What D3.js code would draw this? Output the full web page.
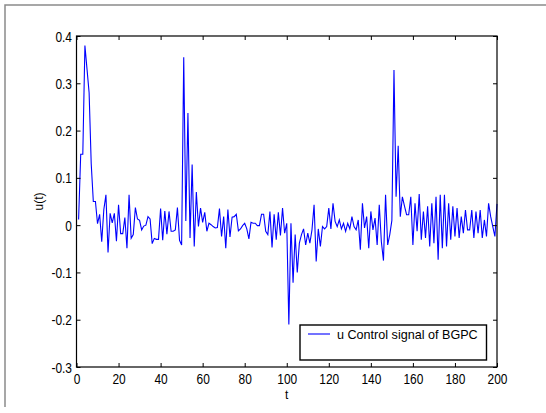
<!DOCTYPE html>
<html>
<head>
<meta charset="utf-8">
<script src="https://cdn.jsdelivr.net/npm/d3@7"></script>
<style>
  body { margin: 0; background: #fff; }
  svg { display: block; font-family: "Liberation Sans", Arial, sans-serif; }
</style>
</head>
<body>
<svg width="546" height="413"></svg>
<script>
// u(t), t = 1..200
var u = [
  0.012, 0.15, 0.15, 0.38, 0.33, 0.28, 0.13, 0.05, 0.05, 0.003,
  0.023, -0.035, 0.033, 0.064, -0.058, 0.025, 0.005, 0.025, -0.034, 0.043,
  -0.018, -0.018, 0.016, -0.049, 0.064, -0.028, -0.02, 0.037, 0.013, 0.01,
  -0.01, -0.002, 0, 0.018, 0.013, -0.039, -0.028, -0.03, -0.03, 0.035,
  -0.032, 0.03, -0.019, 0.029, -0.013, -0.013, -0.01, 0.037, -0.032, -0.042,
  0.355, 0.009, 0.237, -0.027, 0.128, -0.045, 0.07, -0.003, 0.036, 0.006,
  0.027, -0.013, 0.004, 0.001, -0.003, -0.006, -0.005, 0.035, -0.024, 0.018,
  -0.049, 0.033, -0.025, 0.017, 0.018, 0.023, -0.012, -0.008, -0.001, 0.004,
  -0.008, -0.029, 0.006, 0.004, 0.004, -0.001, -0.001, 0.023, 0.023, -0.013,
  -0.02, 0.029, -0.047, 0.023, -0.031, 0.027, -0.022, 0.036, -0.017, 0.004,
  -0.21, 0.004, -0.122, -0.02, -0.1, -0.038, -0.02, -0.008, -0.042, -0.017,
  -0.038, -0.01, 0.043, -0.077, -0.008, -0.045, -0.003, -0.008, -0.003, 0.036,
  -0.008, 0.046, 0.008, -0.003, 0.011, -0.008, 0.004, -0.013, 0.004, -0.008,
  0.018, -0.003, -0.01, 0.011, -0.052, 0.046, -0.006, 0.018, -0.049, 0.029,
  -0.01, 0.015, -0.042, 0.043, -0.035, -0.075, 0.064, -0.042, -0.02, 0.01,
  0.328, 0.06, 0.168, 0.018, 0.06, 0.04, 0.022, 0.022, 0.06, -0.042,
  0.046, -0.013, 0.066, -0.031, 0.029, -0.027, 0.04, -0.045, 0.046, -0.038,
  0.06, -0.073, 0.064, -0.049, 0.064, -0.045, 0.046, -0.031, 0.04, -0.024,
  0.036, -0.027, 0.018, -0.017, 0.032, -0.01, -0.01, 0.032, -0.027, 0.029,
  -0.017, 0.032, -0.027, 0.011, -0.024, 0.046, 0.018, -0.003, -0.024, 0.045
];
var t = d3.range(1, u.length + 1);

var xTicks = [0, 20, 40, 60, 80, 100, 120, 140, 160, 180, 200];
var yTicks = [-0.3, -0.2, -0.1, 0, 0.1, 0.2, 0.3, 0.4];
var yTickLabels = ["-0.3", "-0.2", "-0.1", "0", "0.1", "0.2", "0.3", "0.4"];
var legendText = "u Control signal of BGPC";

var svg = d3.select("svg");

// grey frame round the figure (only top and left edges are visible)
svg.append("path")
  .attr("d", "M5,407V5H546")
  .attr("fill", "none")
  .attr("stroke", "#8a8a8a")
  .attr("stroke-width", 1.5);

var padL = 76.5, padT = 36, padR = 497, padB = 367;
var w = padR - padL, h = padB - padT;

var x = d3.scaleLinear().domain([0, 200]).range([0, w]);
var y = d3.scaleLinear().domain([-0.3, 0.4]).range([h, 0]);

var g = svg.append("g").attr("transform", "translate(" + padL + "," + padT + ")");

// data line
var line = d3.line()
  .x(function (d, i) { return x(t[i]); })
  .y(function (d) { return y(d); });

g.append("path")
  .datum(u)
  .attr("d", line)
  .attr("fill", "none")
  .attr("stroke", "#0000ff")
  .attr("stroke-width", 1.1)
  .attr("stroke-linejoin", "miter");

// axes, MATLAB style: ticks inward on all sides
var xb = g.append("g").attr("transform", "translate(0," + h + ")")
  .call(d3.axisBottom(x).tickValues(xTicks).tickSize(-4).tickFormat(d3.format("d")));
var xt = g.append("g")
  .call(d3.axisTop(x).tickValues(xTicks).tickSize(-4).tickFormat(""));
var yl = g.append("g")
  .call(d3.axisLeft(y).tickValues(yTicks).tickSize(-4)
    .tickFormat(function (d, i) { return yTickLabels[i]; }));
var yr = g.append("g").attr("transform", "translate(" + w + ",0)")
  .call(d3.axisRight(y).tickValues(yTicks).tickSize(-4).tickFormat(""));

[xb, xt, yl, yr].forEach(function (a) {
  a.select(".domain").remove();
  a.selectAll(".tick line").attr("stroke", "#000").attr("stroke-width", 1);
});

xb.selectAll(".tick text")
  .attr("y", 0).attr("dy", 0)
  .attr("transform", "translate(0,17) scale(0.92,1.12)")
  .attr("font-size", 13).attr("fill", "#000");
yl.selectAll(".tick text")
  .attr("x", 0).attr("dy", 0)
  .attr("transform", "translate(-4.5,5) scale(0.92,1.12)")
  .attr("font-size", 13).attr("fill", "#000");

// box
g.append("rect")
  .attr("width", w).attr("height", h)
  .attr("fill", "none")
  .attr("stroke", "#000")
  .attr("stroke-width", 1.2);

// axis titles
svg.append("text")
  .attr("x", padL + w / 2).attr("y", 399)
  .attr("text-anchor", "middle")
  .attr("font-size", 12)
  .text("t");
svg.append("text")
  .attr("transform", "translate(43," + (padT + h / 2) + ") rotate(-90)")
  .attr("text-anchor", "middle")
  .attr("font-size", 12)
  .text("u(t)");

// legend
var lg = svg.append("g");
lg.append("rect")
  .attr("x", 300).attr("y", 325).attr("width", 186.5).attr("height", 35)
  .attr("fill", "#fff")
  .attr("stroke", "#000")
  .attr("stroke-width", 1.4);
lg.append("line")
  .attr("x1", 308).attr("x2", 330).attr("y1", 334).attr("y2", 334)
  .attr("stroke", "#0000ff").attr("stroke-width", 1.1);
lg.append("text")
  .attr("x", 337).attr("y", 338.5)
  .attr("font-size", 12.6)
  .text(legendText);
</script>
</body>
</html>
